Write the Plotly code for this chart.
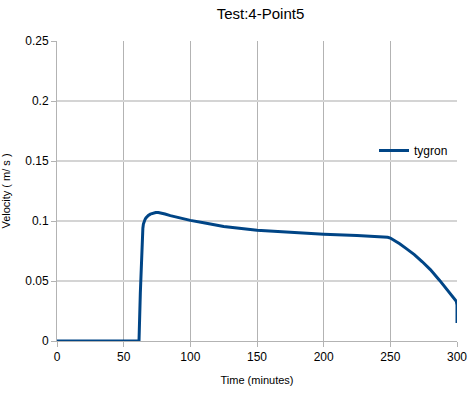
import plotly.graph_objects as go

time_min = [0, 61.5, 62.5, 63.5, 64, 64.4, 64.8, 65.3, 66, 66.7, 67.5, 68.5, 70, 72, 74, 76, 78, 81,
            85, 90, 95, 100, 110, 125, 150, 175, 200, 225, 240, 245, 248, 250, 253, 257, 262, 268,
            274, 280, 287, 293, 297, 299.5, 300, 300]
velocity = [0, 0, 0.04, 0.079, 0.088, 0.094, 0.0975, 0.0995, 0.1012, 0.1025, 0.1036, 0.1046, 0.1057,
            0.1066, 0.107, 0.107, 0.1066, 0.1058, 0.1045, 0.103, 0.1016, 0.1005, 0.0985, 0.0955, 0.0922,
            0.0904, 0.089, 0.0879, 0.0872, 0.087, 0.0865, 0.0858, 0.084, 0.081, 0.077, 0.072,
            0.066, 0.0595, 0.0505, 0.0425, 0.037, 0.033, 0.03, 0.015]

series_name = "tygron"
title_text = "Test:4-Point5"
x_title = "Time (minutes)"
y_title = "Velocity ( m/ s )"
x_ticks = [0, 50, 100, 150, 200, 250, 300]
y_ticks = [0, 0.05, 0.1, 0.15, 0.2, 0.25]
y_tick_labels = ["0", "0.05", "0.1", "0.15", "0.2", "0.25"]

fig = go.Figure()
fig.add_trace(go.Scatter(x=time_min, y=velocity, mode="lines", name=series_name,
                         line=dict(color="#004586", width=3)))

grid = "#b3b3b3"
fig.update_layout(
    width=471, height=394,
    margin=dict(l=57, r=14, t=41, b=53),
    paper_bgcolor="white", plot_bgcolor="white",
    font=dict(family="Liberation Sans, Arial, sans-serif", size=12, color="#000000"),
    title=dict(text=title_text, x=0.553, xanchor="center", y=0.965, yanchor="middle",
               font=dict(size=15)),
    showlegend=True,
    legend=dict(x=0.7925, y=0.635, xanchor="left", yanchor="middle", bgcolor="rgba(0,0,0,0)",
                font=dict(size=12), itemwidth=30),
    xaxis=dict(range=[0, 300], tickvals=x_ticks, showgrid=True, gridcolor=grid, gridwidth=1,
               showline=True, linecolor=grid, linewidth=1, ticks="outside", ticklen=5,
               tickcolor=grid, zeroline=False, automargin=False,
               title=dict(text=x_title, font=dict(size=11), standoff=12)),
    yaxis=dict(range=[0, 0.25], tickvals=y_ticks, ticktext=y_tick_labels, showgrid=True,
               gridcolor="#d4d4d4", gridwidth=2, showline=True, linecolor=grid, linewidth=1,
               ticks="outside", ticklen=5, tickcolor=grid, zeroline=False, automargin=False,
               title=dict(text=y_title, font=dict(size=11), standoff=14)),
)

fig.write_html("out.html")
